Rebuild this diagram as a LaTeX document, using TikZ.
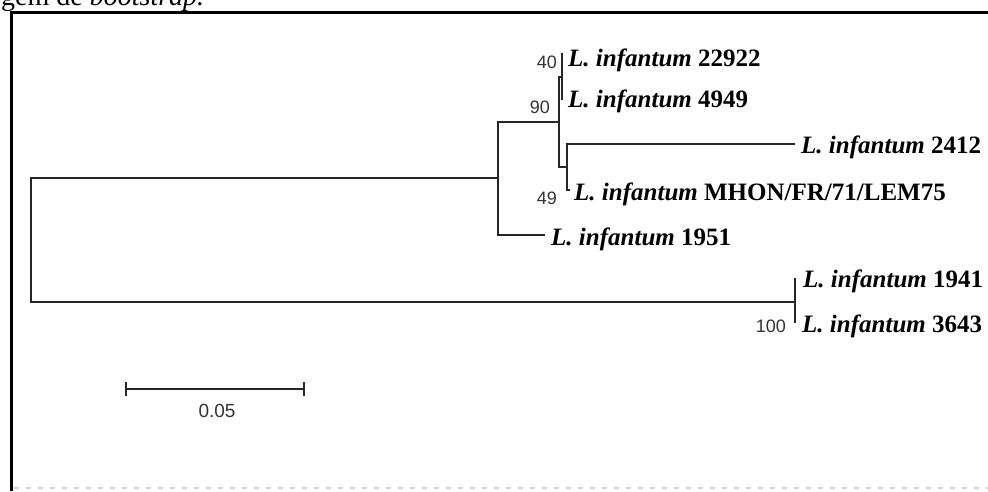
\documentclass[tikz,border=0pt]{standalone}
\usepackage{fontspec}
\setmainfont{Liberation Serif}
\newfontfamily\numfont{Liberation Sans}
\begin{document}
\begin{tikzpicture}[x=1pt,y=-1pt,
  branch/.style={line width=1.6pt, line join=miter, black!85},
  frameline/.style={line width=2.6pt, line join=miter, black},
  leaf/.style={anchor=base west, inner sep=0pt, font=\fontsize{25}{28}\selectfont\bfseries},
  boot/.style={anchor=base east, inner sep=0pt, font=\numfont\fontsize{18}{20}\selectfont, black!80},
  scalelab/.style={anchor=base, inner sep=0pt, font=\numfont\fontsize{19}{21}\selectfont, black!80}]
\useasboundingbox (0,0) rectangle (988,491);
\clip (0,0) rectangle (988,491);
% caption fragment cut at top
\node[anchor=base west, inner sep=0pt, font=\fontsize{28}{30}\selectfont] (cap) at (1,5) {gem de \textit{bootstrap.}};
% frame
\coordinate (fbl) at (11.5,491);
\coordinate (ftl) at (11.5,12.5);
\coordinate (ftr) at (988,12.5);
\draw[frameline] (fbl) -- (ftl) -- (ftr);
\coordinate (dl) at (14,488);
\coordinate (dr) at (988,488);
\draw[black!18, line width=1.4pt, dash pattern=on 5pt off 7pt] (dl) -- (dr);
% tree coordinates
\coordinate (rt) at (31,178);
\coordinate (rb) at (31,302);
\coordinate (nA) at (498,178);
\coordinate (At) at (498,122);
\coordinate (Ab) at (498,235);
\coordinate (nB) at (795,302);
\coordinate (n90) at (559,122);
\coordinate (n90t) at (559,77);
\coordinate (n90b) at (559,167);
\coordinate (n40) at (562,77);
\coordinate (n49) at (567,167);
\coordinate (n49t) at (567,144);
\coordinate (n49b) at (567,190);
\coordinate (l22922) at (562,53);
\coordinate (l4949) at (562,100);
\coordinate (l2412) at (795,144);
\coordinate (lMHON) at (570,190);
\coordinate (l1951) at (545,235);
\coordinate (l1941) at (795,278);
\coordinate (l3643) at (795,323);
% branches
\draw[branch] (nA) -- (rt) -- (rb) -- (nB);
\draw[branch] (n90) -- (At) -- (Ab) -- (l1951);
\draw[branch] (n40) -- (n90t) -- (n90b) -- (n49);
\draw[branch] (l22922) -- (l4949);
\draw[branch] (l2412) -- (n49t) -- (n49b) -- (lMHON);
\draw[branch] (l1941) -- (l3643);
% leaf labels
\node[leaf] (t22922) at (568,66) {\textit{L. infantum} 22922};
\node[leaf] (t4949) at (568,107) {\textit{L. infantum} 4949};
\node[leaf] (t2412) at (801,153) {\textit{L. infantum} 2412};
\node[leaf] (tMHON) at (574,200) {\textit{L. infantum} MHON/FR/71/LEM75};
\node[leaf] (t1951) at (551,245) {\textit{L. infantum} 1951};
\node[leaf] (t1941) at (803,287) {\textit{L. infantum} 1941};
\node[leaf] (t3643) at (802,332) {\textit{L. infantum} 3643};
% bootstrap values
\node[boot] (b40) at (557,68) {40};
\node[boot] (b90) at (550,113) {90};
\node[boot] (b49) at (557,204) {49};
\node[boot] (b100) at (786,332) {100};
% scale bar
\coordinate (s1) at (126,389);
\coordinate (s2) at (304,389);
\draw[branch] (s1) -- (s2);
\draw[branch] ([yshift=-7pt]s1) -- ([yshift=7pt]s1);
\draw[branch] ([yshift=-7pt]s2) -- ([yshift=7pt]s2);
\node[scalelab] (sl) at (217,417) {0.05};
\end{tikzpicture}
\end{document}
